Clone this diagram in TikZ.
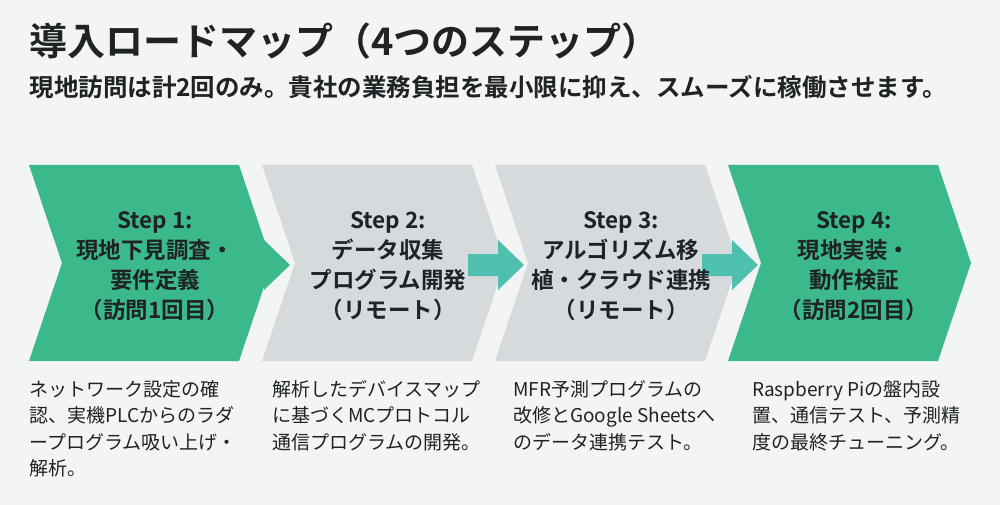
\documentclass[tikz,border=0pt]{standalone}
\usepackage{fontspec}
\setmainfont{Noto Sans CJK JP}[BoldFont={* Bold}]
\usetikzlibrary{positioning}
\definecolor{stepgreen}{HTML}{3BB98B}
\definecolor{stepgray}{HTML}{D6DADC}
\definecolor{bgcol}{HTML}{F3F5F5}
\definecolor{ink}{HTML}{1F2326}
\definecolor{linkteal}{HTML}{4FBFB0}
\tikzset{
  chev/.style={inner sep=0pt},
  steptext/.style={font=\bfseries\fontsize{22.5}{30}\selectfont, text=ink, align=center},
  desctext/.style={font=\fontsize{19}{26.5}\selectfont, text=ink, align=left, anchor=north west, inner sep=0pt},
}
\newcommand{\chevron}[3]{% left x, fill, name
  \fill[#2] (#1,165) -- ++(210,0) -- ++(33,98) -- ++(-33,98) -- ++(-210,0) -- ++(33,-98) -- cycle;
  \coordinate (#3) at (#1+126,266);
}
\begin{document}
\begin{tikzpicture}[x=1pt,y=-1pt]
\fill[bgcol] (0,0) rectangle (1000,505);
\useasboundingbox (0,0) rectangle (1000,505);
\node[anchor=west, font=\bfseries\fontsize{38}{40}\selectfont, text=ink] (title) at (26,41) {導入ロードマップ（4つのステップ）};
\node[anchor=west, font=\bfseries\fontsize{24.5}{26}\selectfont, text=ink] (sub) at (26,87) {現地訪問は計2回のみ。貴社の業務負担を最小限に抑え、スムーズに稼働させます。};
% chevrons
\chevron{29}{stepgreen}{c1}
\chevron{262}{stepgray}{c2}
\chevron{495}{stepgray}{c3}
\chevron{728}{stepgreen}{c4}
% links
\foreach \x/\c in {234/stepgreen, 468/linkteal, 702/linkteal}
  \fill[\c] (\x,254) -- (\x+30,254) -- (\x+30,240) -- (\x+56,265) -- (\x+30,290) -- (\x+30,276) -- (\x,276) -- cycle;
% step labels
\node[steptext] (s1) at (c1) {Step 1:\\現地下見調査・\\要件定義\\（訪問1回目）};
\node[steptext] (s2) at (c2) {Step 2:\\データ収集\\プログラム開発\\（リモート）};
\node[steptext] (s3) at (c3) {Step 3:\\アルゴリズム移\\植・クラウド連携\\（リモート）};
\node[steptext] (s4) at (c4) {Step 4:\\現地実装・\\動作検証\\（訪問2回目）};
% descriptions
\node[desctext] (d1) at (29,380) {ネットワーク設定の確\\認、実機PLCからのラダ\\ープログラム吸い上げ・\\解析。};
\node[desctext] (d2) at (272,380) {解析したデバイスマップ\\に基づくMCプロトコル\\通信プログラムの開発。};
\node[desctext] (d3) at (513,380) {MFR予測プログラムの\\改修とGoogle Sheetsへ\\のデータ連携テスト。};
\node[desctext] (d4) at (752,380) {Raspberry Piの盤内設\\置、通信テスト、予測精\\度の最終チューニング。};
\end{tikzpicture}
\end{document}
